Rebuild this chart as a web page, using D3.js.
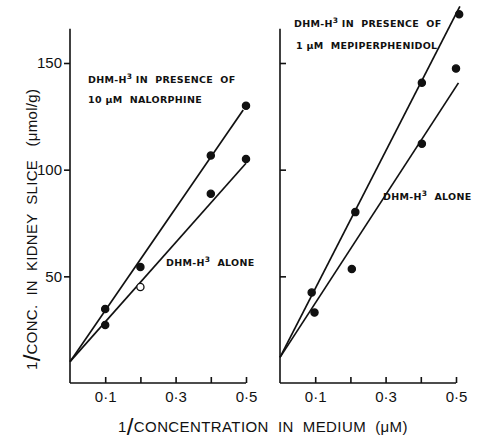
<!DOCTYPE html>
<html><head><meta charset="utf-8">
<script src="https://cdn.jsdelivr.net/npm/d3@7"></script>
<style>body{margin:0;background:#fff}svg{display:block}text{white-space:pre}</style>
</head><body>
<svg id="c" width="491" height="447"></svg>
<script>
// ---- data ----
const xTicks = [0.1, 0.2, 0.3, 0.4, 0.5];
const xTickLabels = ["0·1", "", "0·3", "", "0·5"];
const yTicks = [50, 100, 150];
const yTickLabels = ["50", "100", "150"];

// Left panel (nalorphine)
const leftNalX = [0.1, 0.2, 0.4, 0.5];
const leftNalY = [34.7, 54.4, 106.6, 130];
const leftAloneX = [0.1, 0.2, 0.4, 0.5];
const leftAloneY = [27.2, 45, 88.7, 105];
const leftNalLine = [[0, 10], [0.492, 128]];
const leftAloneLine = [[0, 10], [0.5, 103]];

// Right panel (mepiperphenidol)
const rightMepX = [0.09, 0.214, 0.403, 0.509];
const rightMepY = [42.4, 80.1, 140.7, 172.8];
const rightAloneX = [0.098, 0.204, 0.403, 0.5];
const rightAloneY = [33, 53.4, 112.2, 147.4];
const rightMepLine = [[0, 12], [0.511, 176.5]];
const rightAloneLine = [[0, 12], [0.507, 140.7]];

const svg = d3.select("#c");
const y = d3.scaleLinear().domain([0, 150]).range([383, 63]);
const xL = d3.scaleLinear().domain([0, 0.5]).range([70, 246]);
const xR = d3.scaleLinear().domain([0, 0.5]).range([280, 456]);
const yTop = 166;
const ink = "#111";

function panel(x, side) {
  const g = svg.append("g");
  const ax = d3.axisBottom(x).tickValues(xTicks).tickSize(-6)
    .tickFormat((d, i) => xTickLabels[i]).tickPadding(16);
  const gx = g.append("g").attr("transform", `translate(0,${y(0)})`).call(ax);
  gx.select(".domain").attr("d", `M${x(0)},0H${x(0.5)}`);
  gx.selectAll("path,line").attr("stroke", ink).attr("stroke-width", 1.6);
  gx.selectAll("text").attr("font-family", "Liberation Sans, Arial, sans-serif")
    .attr("font-size", 15).attr("fill", ink).attr("dy", "0.2em");
  const ay = (side === "left" ? d3.axisLeft(y).tickSize(6) : d3.axisRight(y).tickSize(6))
    .tickValues(yTicks).tickFormat((d, i) => side === "left" ? yTickLabels[i] : "").tickPadding(2);
  const gy = g.append("g").attr("transform", `translate(${x(0)},0)`).call(ay);
  gy.select(".domain").attr("d", `M0,${y(0)}V${y(yTop)}`);
  gy.selectAll("path,line").attr("stroke", ink).attr("stroke-width", 1.6);
  gy.selectAll("text").attr("font-family", "Liberation Sans, Arial, sans-serif")
    .attr("font-size", 15).attr("fill", ink);
  return g;
}

const gL = panel(xL, "left");
const gR = panel(xR, "right");

const line = (x) => d3.line().x(d => x(d[0])).y(d => y(d[1]));
function drawLine(g, x, pts) {
  g.append("path").datum(pts).attr("d", line(x)).attr("fill", "none")
    .attr("stroke", ink).attr("stroke-width", 1.7);
}
function drawPts(g, x, xs, ys, openIdx) {
  g.selectAll(null).data(xs.map((d, i) => [d, ys[i], i])).enter().append("circle")
    .attr("cx", d => x(d[0])).attr("cy", d => y(d[1])).attr("r", 3.6)
    .attr("fill", d => d[2] === openIdx ? "#fff" : ink)
    .attr("stroke", ink).attr("stroke-width", 1.3);
}
drawLine(gL, xL, leftNalLine);
drawLine(gL, xL, leftAloneLine);
drawLine(gR, xR, rightMepLine);
drawLine(gR, xR, rightAloneLine);
drawPts(gL, xL, leftNalX, leftNalY, -1);
drawPts(gL, xL, leftAloneX, leftAloneY, 1);
drawPts(gR, xR, rightMepX, rightMepY, -1);
drawPts(gR, xR, rightAloneX, rightAloneY, -1);

// annotations: [before superscript, superscript, after, x, y]
const annot = [
  ["DHM-H", "3", " IN  PRESENCE  OF", 88, 83],
  ["10 μM  NALORPHINE", "", "", 88, 103],
  ["DHM-H", "3", "  ALONE", 166, 266],
  ["DHM-H", "3", " IN  PRESENCE  OF", 294, 27],
  ["1 μM  MEPIPERPHENIDOL", "", "", 296, 49],
  ["DHM-H", "3", "  ALONE", 383, 200]
];
annot.forEach(a => {
  const t = svg.append("text").attr("x", a[3]).attr("y", a[4])
    .attr("font-family", "DejaVu Sans, sans-serif").attr("font-size", 9.5)
    .attr("font-weight", "bold").attr("fill", ink).attr("letter-spacing", 0.3);
  t.append("tspan").text(a[0]);
  if (a[1]) {
    t.append("tspan").attr("font-size", 7.5).attr("dy", -4).text(a[1]);
    t.append("tspan").attr("dy", 4).text(a[2]);
  }
});

// axis titles
const xt = svg.append("text").attr("x", 118).attr("y", 432)
  .attr("font-family", "Liberation Sans, Arial, sans-serif").attr("font-size", 15)
  .attr("fill", ink).attr("letter-spacing", 0.4);
xt.append("tspan").text("1");
xt.append("tspan").attr("font-size", 24).attr("dy", 3).text("/");
xt.append("tspan").attr("dy", -3).text("CONCENTRATION  IN  MEDIUM  (μM)");

const yt = svg.append("text").attr("transform", "translate(37,370) rotate(-90)")
  .attr("font-family", "Liberation Sans, Arial, sans-serif").attr("font-size", 15)
  .attr("fill", ink).attr("letter-spacing", 0.3);
yt.append("tspan").text("1");
yt.append("tspan").attr("font-size", 24).attr("dy", 3).text("/");
yt.append("tspan").attr("dy", -3).text("CONC.  IN  KIDNEY  SLICE   (μmol/g)");
</script>
</body></html>
